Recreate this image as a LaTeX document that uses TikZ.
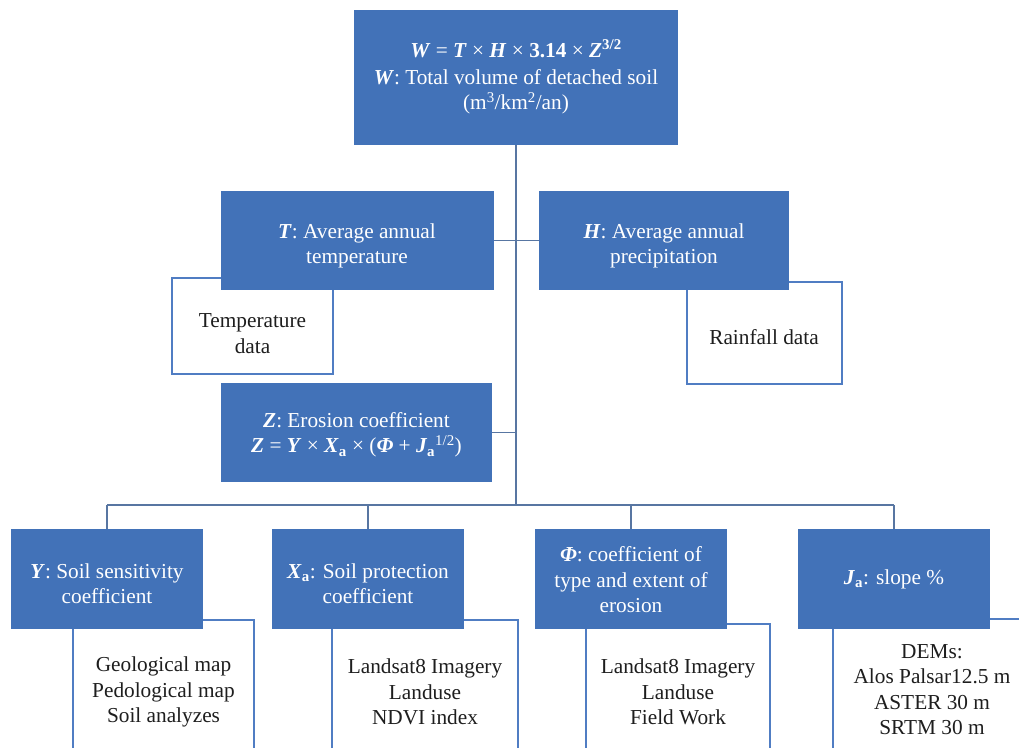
\documentclass[tikz,border=0pt]{standalone}
\usepackage{fontspec}
\setmainfont{Liberation Serif}
\definecolor{boxblue}{RGB}{66,114,184}
\definecolor{edgeblue}{RGB}{80,125,195}
\definecolor{linkblue}{RGB}{88,118,162}
\definecolor{darktext}{RGB}{30,30,30}
\newcommand{\bi}[1]{\textbf{\textit{#1}}}
\tikzset{
  bluebox/.style={rectangle, fill=boxblue, draw=none, inner sep=0pt},
  bluetext/.style={text=white, align=center, inner sep=0pt},
  databox/.style={rectangle, fill=white, draw=edgeblue, line width=1.4pt, inner sep=0pt},
  datatext/.style={text=darktext, align=center, inner sep=0pt},
  link/.style={draw=linkblue, line width=1.8pt}
}
\begin{document}
\begin{tikzpicture}[x=1pt,y=-1pt, font=\fontsize{21.3}{25.5}\selectfont]
\useasboundingbox (0,0) rectangle (1019,747);
\clip (0,0) rectangle (1019,747);
\fill[white] (0,0) rectangle (1019,747);

% data boxes (behind)
\node[databox, minimum width=161pt, minimum height=96pt] (td) at (252.5,326) {};
\node[databox, minimum width=155pt, minimum height=102pt] (rd) at (764.5,333) {};
\node[databox, minimum width=181pt, minimum height=140pt] (yd) at (163.5,690) {};
\node[databox, minimum width=186pt, minimum height=140pt] (xd) at (425,690) {};
\node[databox, minimum width=184pt, minimum height=136pt] (pd) at (678,692) {};
\node[databox, minimum width=198pt, minimum height=142pt] (jd) at (932,690) {};

\node[datatext] (tdt) at (252.5,333.5) {Temperature\\data};
\node[datatext] (rdt) at (764,337) {Rainfall data};
\node[datatext] (ydt) at (163.5,692) {Geological map\\Pedological map\\Soil analyzes};
\node[datatext] (xdt) at (425,692) {Landsat8 Imagery\\Landuse\\NDVI index};
\node[datatext] (pdt) at (678,692) {Landsat8 Imagery\\Landuse\\Field Work};
\node[datatext] (jdt) at (932,689.5) {DEMs:\\Alos Palsar12.5 m\\ASTER 30 m\\SRTM 30 m};

% blue boxes
\node[bluebox, minimum width=324pt, minimum height=135pt] (w) at (516,77.5) {};
\node[bluebox, minimum width=273pt, minimum height=99pt] (t) at (357.5,240.5) {};
\node[bluebox, minimum width=250pt, minimum height=99pt] (h) at (664,240.5) {};
\node[bluebox, minimum width=271pt, minimum height=99pt] (z) at (356.5,432.5) {};
\node[bluebox, minimum width=192pt, minimum height=100pt] (y) at (107,579) {};
\node[bluebox, minimum width=192pt, minimum height=100pt] (xa) at (368,579) {};
\node[bluebox, minimum width=192pt, minimum height=100pt] (phi) at (631,579) {};
\node[bluebox, minimum width=192pt, minimum height=100pt] (ja) at (894,579) {};

\node[bluetext] (wt) at (516,77)
  {\bi{W} = \bi{T} × \bi{H} × \textbf{3.14} × \bi{Z}\textsuperscript{\textbf{3/2}}\\[1.5pt]
   \bi{W}: Total volume of detached soil\\
   (m\textsuperscript{3}/km\textsuperscript{2}/an)};
\node[bluetext] (tt) at (357,246) {\bi{T}: Average annual\\temperature};
\node[bluetext] (ht) at (664,246) {\bi{H}: Average annual\\precipitation};
\node[bluetext] (zt) at (356.5,435)
  {\bi{Z}: Erosion coefficient\\
   \bi{Z} = \bi{Y} × \bi{X}\textsubscript{\textbf{a}} × (\bi{Φ} + \bi{J}\textsubscript{\textbf{a}}\textsuperscript{1/2})};
\node[bluetext] (yt) at (107,583.5) {\bi{Y}: Soil sensitivity\\coefficient};
\node[bluetext] (xat) at (368,583.5) {\bi{X}\textsubscript{\textbf{a}}: Soil protection\\coefficient};
\node[bluetext] (phit) at (631,580) {\bi{Φ}: coefficient of\\type and extent of\\erosion};
\node[bluetext] (jat) at (894,579.5) {\bi{J}\textsubscript{\textbf{a}}: slope \%};

% connectors
\coordinate (trunkend) at (516,505);
\coordinate (tz) at (516,432.5);
\coordinate (bl) at (107,505);
\coordinate (br) at (894,505);
\draw[link] (w.south) -- (trunkend);
\draw[link] (t.east) -- (h.west);
\draw[link] (z.east) -- (tz);
\draw[link] (bl) -- (br);
\draw[link] (bl) -- (y.north);
\draw[link] (xa.north |- bl) -- (xa.north);
\draw[link] (phi.north |- bl) -- (phi.north);
\draw[link] (br) -- (ja.north);
\end{tikzpicture}
\end{document}
